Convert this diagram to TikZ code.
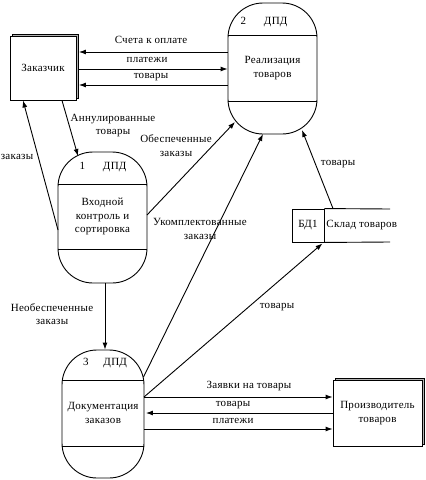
\documentclass[tikz,border=0pt]{standalone}
\usepackage{fontspec}
\setmainfont[LetterSpace=2.5]{Liberation Serif}
\usetikzlibrary{arrows.meta,calc}
\begin{document}
\begin{tikzpicture}[x=1pt,y=-1pt,
  font=\fontsize{11}{13.5}\selectfont,
  line width=0.9pt,
  flow/.style={-{Latex[length=7pt,width=5pt]}},
  lbl/.style={inner sep=0pt, align=center},
  proc/.style={draw, rounded corners=35pt, inner sep=0pt, minimum width=89pt, minimum height=131pt},
  ext/.style={draw, fill=white, inner sep=0pt, align=center, minimum width=66pt, minimum height=64pt},
  shadowbox/.style={draw, fill=gray!60}
]
\useasboundingbox (0,0) rectangle (426,480);

% processes
\node[proc] (p1) at (102.5,217.5) {};
\node[proc] (p2) at (272.5,68.5) {};
\node[proc, minimum width=82pt, minimum height=128pt] (p3) at (103,414) {};
\draw (p1.west |- 0,184) -- (p1.east |- 0,184);
\draw (p1.west |- 0,249) -- (p1.east |- 0,249);
\draw (p2.west |- 0,35) -- (p2.east |- 0,35);
\draw (p2.west |- 0,101) -- (p2.east |- 0,101);
\draw (p3.west |- 0,380) -- (p3.east |- 0,380);
\draw (p3.west |- 0,446) -- (p3.east |- 0,446);
\node[lbl] (p1h) at (103,167) {1\hspace{18pt}ДПД};
\node[lbl] (p2h) at (264,22) {2\hspace{18pt}ДПД};
\node[lbl] (p3h) at (105,363) {3\hspace{15pt}ДПД};
\node[lbl] (p1t) at (102.5,216.5) {Входной\\контроль и\\сортировка};
\node[lbl] (p2t) at (272.5,68) {Реализация\\товаров};
\node[lbl] (p3t) at (103,413) {Документация\\заказов};

% external entities
\draw[shadowbox] (12,34) rectangle (78,98);
\node[ext] (c) at (43,68) {Заказчик};
\draw[shadowbox] (335,378) rectangle (424,444);
\node[ext, minimum width=89pt, minimum height=66pt] (m) at (377.5,413) {Производитель\\товаров};

% data store
\node[draw, inner sep=0pt, minimum width=32pt, minimum height=33pt] (db) at (308,225.5) {БД1};
\node[lbl, anchor=west] (dbn) at (326,225) {Склад товаров};
\draw (db.north east) -- (390,209);
\draw (db.south east) -- (390,242);

% named end points on curved outlines
\coordinate (p1in) at (78,156);
\coordinate (p1out) at (58,230);
\coordinate (p1r) at (147,215);
\coordinate (p2a) at (235,122);
\coordinate (p2b) at (263,134);
\coordinate (p2c) at (302,130);
\coordinate (p3tr) at (143.5,377);
\coordinate (p3r) at (144,397);

% connectors
\draw[flow] (p2.west |- 0,52) -- ($(c.east |- 0,52)+(2.5,0)$);
\draw[flow] ($(c.east |- 0,69)+(2,0)$) -- (p2.west |- 0,69);
\draw[flow] (p2.west |- 0,85) -- ($(c.east |- 0,85)+(2.5,0)$);
\draw[flow] (c.south -| 62,0) -- (p1in);
\draw[flow] (p1out) -- (c.south -| 23,0);
\draw[flow] (p1r) -- (p2a);
\draw[flow] (p3tr) -- (p2b);
\draw[flow] (db.north east -| 333,0) -- (p2c);
\draw[flow] (p3r) -- ($(db.south east)+(-2,1)$);
\draw[flow] (p3r) -- (m.west |- 0,397);
\draw[flow] (m.west |- 0,413) -- ($(p3.east |- 0,413)+(1.5,0)$);
\draw[flow] (p3.east |- 0,429) -- (m.west |- 0,429);
\draw[flow] (p1.south -| 105,0) -- (p3.north -| 105,0);

% labels
\node[lbl] at (151,40) {Счета к оплате};
\node[lbl] at (147,60) {платежи};
\node[lbl] at (151,77) {товары};
\node[lbl] at (113,125.5) {Аннулированные\\товары};
\node[lbl] at (17,157) {заказы};
\node[lbl] at (176,145.5) {Обеспеченные\\заказы};
\node[lbl] at (200,229) {Укомплектованные\\заказы};
\node[lbl] at (338,164) {товары};
\node[lbl] at (277,307) {товары};
\node[lbl] at (249,386) {Заявки на товары};
\node[lbl] at (233,405) {товары};
\node[lbl] at (233,421) {платежи};
\node[lbl] at (52,314) {Необеспеченные\\заказы};
\end{tikzpicture}
\end{document}
